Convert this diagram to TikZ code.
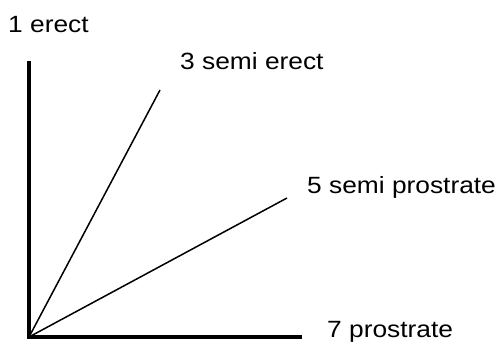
\documentclass[tikz,border=0pt]{standalone}
\usepackage{fontspec}
\setmainfont{Liberation Sans}[FakeStretch=1.12]
\usepackage{tikz}
\usetikzlibrary{positioning}
\tikzset{
axis/.style={
line width=4.5pt
},
ray/.style={
line width=1.5pt
},
habit/.style={
anchor=base west,
inner sep=0pt,
font=\fontsize{23.5}{28}\selectfont
}
}

\begin{document}
\begin{tikzpicture}[x=1pt,y=-1pt]
\useasboundingbox (0,0) rectangle (501,345);
\coordinate (o) at (29,337);
\coordinate (erect) at (29,61);
\coordinate (semierect) at (160,90);
\coordinate (semiprostrate) at (287,198);
\coordinate (prostrate) at (302,337);

\node[habit](l1) at (8,33){1 erect};
\node[habit](l3) at (180,70){3 semi erect};
\node[habit](l5) at (307,193){5 semi prostrate};
\node[habit](l7) at (327,337){7 prostrate};

\draw[axis](erect)--(o)--(prostrate);
\foreach \p in {semierect,semiprostrate}
\draw[ray](o)--(\p);
\end{tikzpicture}
\end{document}
